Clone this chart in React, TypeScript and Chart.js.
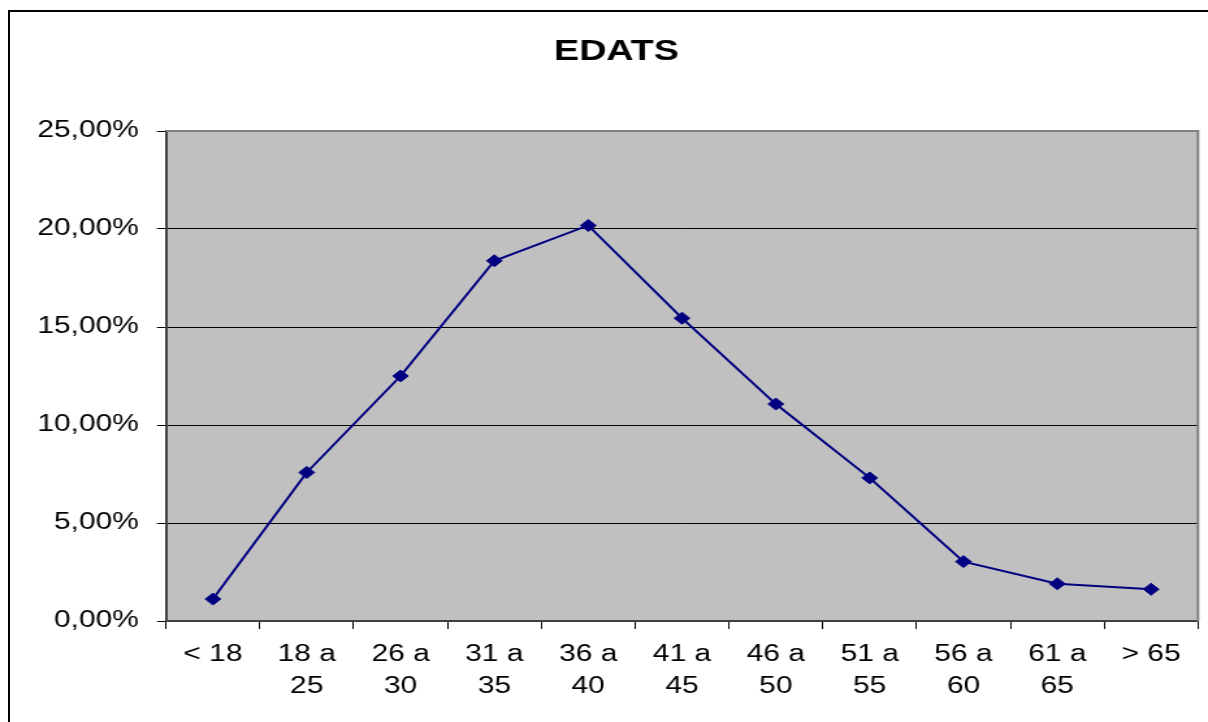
import React, { useEffect, useRef } from "react";
import { Chart, registerables } from "chart.js";

Chart.register(...registerables);

const titleText = "EDATS";
const categories: (string | string[])[] = [
  "< 18",
  ["18 a", "25"],
  ["26 a", "30"],
  ["31 a", "35"],
  ["36 a", "40"],
  ["41 a", "45"],
  ["46 a", "50"],
  ["51 a", "55"],
  ["56 a", "60"],
  ["61 a", "65"],
  "> 65",
];
const percentages = [1.12, 7.58, 12.5, 18.38, 20.18, 15.45, 11.07, 7.3, 3.03, 1.9, 1.62];
const yMin = 0;
const yMax = 25;
const yStep = 5;

const STRETCH = 1.3;
const W = 1208;
const H = 722;
const IW = Math.round(W / STRETCH);
const FONT = "'Liberation Sans', Arial, sans-serif";

export default function App() {
  const ref = useRef<HTMLCanvasElement | null>(null);

  useEffect(() => {
    const canvas = ref.current;
    if (!canvas) return;
    const sx = IW / W;
    const plotLeft = 166 * sx;
    const plotRight = 1198 * sx;

    const bgPlugin = {
      id: "plotBg",
      beforeDraw(chart: any) {
        const { ctx, chartArea } = chart;
        ctx.save();
        ctx.fillStyle = "#C0C0C0";
        ctx.fillRect(chartArea.left, chartArea.top, chartArea.right - chartArea.left, chartArea.bottom - chartArea.top);
        ctx.restore();
      },
      beforeDatasetsDraw(chart: any) {
        const { ctx, chartArea } = chart;
        ctx.save();
        ctx.strokeStyle = "#808080";
        ctx.lineWidth = 2;
        ctx.beginPath();
        ctx.moveTo(chartArea.left, chartArea.top);
        ctx.lineTo(chartArea.right, chartArea.top);
        ctx.lineTo(chartArea.right, chartArea.bottom);
        ctx.stroke();
        ctx.restore();
      },
      afterDraw(chart: any) {
        const { ctx } = chart;
        ctx.save();
        ctx.fillStyle = "#000";
        ctx.font = `bold 29px ${FONT}`;
        ctx.textAlign = "center";
        ctx.textBaseline = "middle";
        ctx.fillText(titleText, 616.5 * sx, 52);
        ctx.restore();
      },
    };

    const chart = new Chart(canvas, {
      type: "line",
      data: {
        labels: categories,
        datasets: [
          {
            data: percentages,
            borderColor: "#000080",
            backgroundColor: "#000080",
            borderWidth: 2,
            pointStyle: "rectRot",
            pointRadius: 6,
            pointBorderWidth: 1,
            pointBackgroundColor: "#000080",
            pointBorderColor: "#000080",
            tension: 0,
            fill: false,
          },
        ],
      },
      options: {
        animation: false,
        responsive: false,
        devicePixelRatio: 1,
        layout: { padding: { top: 131, left: 0, right: IW - plotRight, bottom: 0 } },
        plugins: {
          legend: { display: false },
          title: { display: false },
          tooltip: { enabled: false },
        },
        scales: {
          x: {
            offset: true,
            grid: {
              offset: true,
              drawOnChartArea: false,
              drawTicks: true,
              tickLength: 8,
              color: "#000",
              lineWidth: 1,
            },
            border: { display: true, color: "#404040", width: 2 },
            ticks: {
              color: "#000",
              font: { family: FONT, size: 23, lineHeight: 1.37 },
              padding: 10,
              maxRotation: 0,
              autoSkip: false,
            },
            afterFit(scale: any) {
              scale.height = H - 621;
            },
          },
          y: {
            min: yMin,
            max: yMax,
            grid: {
              color: "#000",
              lineWidth: 1,
              tickLength: 7,
            },
            border: { display: true, color: "#404040", width: 2 },
            ticks: {
              stepSize: yStep,
              color: "#000",
              font: { family: FONT, size: 23 },
              padding: 14,
              callback: (v: any) => Number(v).toFixed(2).replace(".", ",") + "%",
            },
            afterFit(scale: any) {
              scale.width = plotLeft;
            },
          },
        },
      },
      plugins: [bgPlugin],
    } as any);

    return () => chart.destroy();
  }, []);

  return (
    <div style={{ position: "absolute", left: 0, top: 0, width: W, height: H, overflow: "hidden", background: "#fff" }}>
      <div
        style={{
          position: "absolute",
          left: 8,
          top: 10,
          width: 1400,
          height: 900,
          border: "2px solid #000",
          boxSizing: "border-box",
        }}
      />
      <canvas
        ref={ref}
        width={IW}
        height={H}
        style={{ position: "absolute", left: 0, top: 0, width: W + "px", height: H + "px", display: "block" }}
      />
    </div>
  );
}
